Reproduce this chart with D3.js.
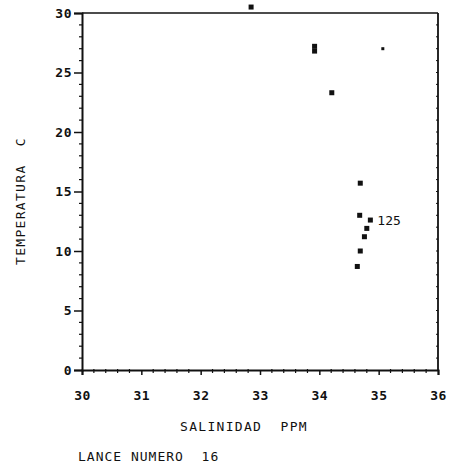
<!DOCTYPE html>
<html>
<head>
<meta charset="utf-8">
<script src="https://cdn.jsdelivr.net/npm/d3@7"></script>
<style>
  html, body { margin: 0; padding: 0; background: #fff; }
  svg { display: block; }
  text { font-family: "DejaVu Sans Mono", monospace; fill: #111; white-space: pre; }
</style>
</head>
<body>
<svg id="chart" width="449" height="471"></svg>
<script>
// ---- data ----
const salinity    = [32.85, 33.92, 33.92, 35.07, 34.21, 34.69, 34.68, 34.86, 34.80, 34.76, 34.69, 34.64];
const temperature = [30.5,  27.2,  26.8,  27.0,  23.3,  15.7,  13.0,  12.6,  11.9,  11.2,  10.0,  8.7];
const pointSize   = ["n",   "n",   "n",   "s",   "n",   "n",   "n",   "n",   "n",   "n",   "n",   "n"];
const annotations = [{ index: 7, text: "125" }];
const xTicks = [30, 31, 32, 33, 34, 35, 36];
const yTicks = [0, 5, 10, 15, 20, 25, 30];
const xTickLabels = ["30", "31", "32", "33", "34", "35", "36"];
const yTickLabels = ["0", "5", "10", "15", "20", "25", "30"];
const xTitle = "SALINIDAD  PPM";
const yTitle = "TEMPERATURA  C";
const footer = "LANCE NUMERO  16";

// ---- layout ----
const svg = d3.select("#chart");
const L = 82, R = 438, T = 13, B = 370;
const x = d3.scaleLinear().domain([30, 36]).range([L, R]);
const y = d3.scaleLinear().domain([0, 30]).range([B, T]);
const ink = "#111";

// frame (top + right)
svg.append("line").attr("x1", L).attr("x2", R).attr("y1", T).attr("y2", T)
  .attr("stroke", ink).attr("stroke-width", 1.6);
svg.append("line").attr("x1", R).attr("x2", R).attr("y1", T).attr("y2", B)
  .attr("stroke", ink).attr("stroke-width", 1.8);

// x axis
const xAxis = d3.axisBottom(x).tickValues(xTicks).tickSize(5)
  .tickFormat((d, i) => xTickLabels[i]).tickPadding(16);
const gx = svg.append("g").attr("transform", `translate(0,${B})`).call(xAxis);
gx.select(".domain").attr("stroke", ink).attr("stroke-width", 2);
gx.selectAll(".tick line").attr("stroke", ink).attr("stroke-width", 1.5);
gx.selectAll(".tick text").attr("font-size", 13).attr("font-weight", "bold")
  .attr("letter-spacing", 0.5).attr("fill", ink);
const xMinor = d3.range(30, 36.001, 0.2).filter(v => Math.abs(v - Math.round(v)) > 1e-6);
svg.append("g").selectAll("line").data(xMinor).join("line")
  .attr("x1", d => x(d)).attr("x2", d => x(d))
  .attr("y1", B - 1).attr("y2", B + 3)
  .attr("stroke", ink).attr("stroke-width", 1.2);

// y axis
const yAxis = d3.axisLeft(y).tickValues(yTicks).tickSize(8)
  .tickFormat((d, i) => yTickLabels[i]).tickPadding(2);
const gy = svg.append("g").attr("transform", `translate(${L},0)`).call(yAxis);
gy.select(".domain").attr("stroke", ink).attr("stroke-width", 2);
gy.selectAll(".tick line").attr("stroke", ink).attr("stroke-width", 1.5);
gy.selectAll(".tick text").attr("font-size", 13).attr("font-weight", "bold")
  .attr("letter-spacing", 0.5).attr("fill", ink);
const yMinor = d3.range(0, 31, 1).filter(v => v % 5 !== 0);
svg.append("g").selectAll("line").data(yMinor).join("line")
  .attr("x1", L - 3).attr("x2", L + 1)
  .attr("y1", d => y(d)).attr("y2", d => y(d))
  .attr("stroke", ink).attr("stroke-width", 1.2);
// right border minor ticks
svg.append("g").selectAll("line").data(d3.range(1, 30, 1)).join("line")
  .attr("x1", R - 2).attr("x2", R)
  .attr("y1", d => y(d)).attr("y2", d => y(d))
  .attr("stroke", ink).attr("stroke-width", 1);

// points
const pts = salinity.map((s, i) => ({ s, t: temperature[i], sz: pointSize[i] }));
svg.append("g").selectAll("rect").data(pts).join("rect")
  .attr("x", d => x(d.s) - (d.sz === "s" ? 1.5 : 2.5))
  .attr("y", d => y(d.t) - (d.sz === "s" ? 1.5 : 2.5))
  .attr("width", d => d.sz === "s" ? 3 : 5)
  .attr("height", d => d.sz === "s" ? 3 : 5)
  .attr("fill", ink);

// annotation
annotations.forEach(a => {
  svg.append("text")
    .attr("x", x(salinity[a.index]) + 7)
    .attr("y", y(temperature[a.index]) + 5)
    .attr("font-family", "DejaVu Sans, sans-serif")
    .attr("font-size", 13)
    .text(a.text);
});

// titles
svg.append("text").attr("x", 244).attr("y", 431).attr("text-anchor", "middle")
  .attr("font-size", 13).attr("letter-spacing", 1.3).text(xTitle);
svg.append("text").attr("transform", "translate(25,201) rotate(-90)")
  .attr("text-anchor", "middle").attr("font-size", 13).attr("letter-spacing", 1.3).text(yTitle);
svg.append("text").attr("x", 78).attr("y", 461)
  .attr("font-size", 13).attr("letter-spacing", 1.0).text(footer);
</script>
</body>
</html>
